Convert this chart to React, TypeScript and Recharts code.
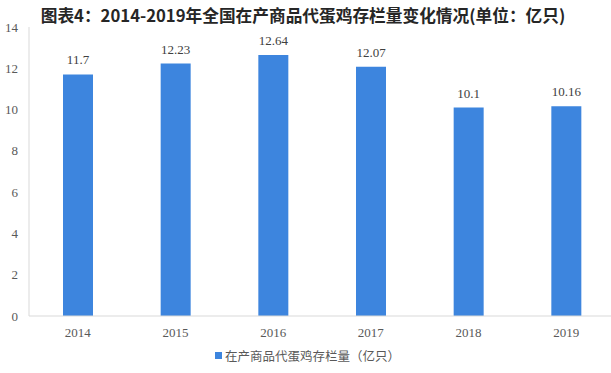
import { BarChart, Bar, XAxis, YAxis, Legend, LabelList } from 'recharts';

const years = ['2014', '2015', '2016', '2017', '2018', '2019'];
const stock = [11.7, 12.23, 12.64, 12.07, 10.1, 10.16];
const yTicks = [0, 2, 4, 6, 8, 10, 12, 14];

const seriesName = '在产商品代蛋鸡存栏量（亿只）';
const barColor = '#3d85de';
const serif = "'Liberation Serif', 'DejaVu Serif', serif";
const cjk = "'Noto Sans CJK SC', sans-serif";

const data = years.map((year, i) => ({ year, value: stock[i] }));

function LegendBox() {
  return (
    <div style={{ display: 'flex', justifyContent: 'center', alignItems: 'center', fontFamily: cjk, fontSize: 12.5, color: '#595959' }}>
      <span style={{ width: 7, height: 7, background: barColor, display: 'inline-block', marginRight: 3 }} />
      {seriesName}
    </div>
  );
}

export default function App() {
  return (
    <div style={{ position: 'absolute', left: 0, top: 0, width: 611, height: 373, overflow: 'hidden', background: '#fff' }}>
      <style>{`.serif-chart svg text, .serif-chart svg tspan { font-family: ${serif} !important; }`}</style>
      <div style={{ position: 'absolute', top: 3, left: 0, width: 606, textAlign: 'center', fontFamily: cjk, fontWeight: 700, fontSize: 16.7, color: '#262626', whiteSpace: 'nowrap' }}>
        图表4：2014-2019年全国在产商品代蛋鸡存栏量变化情况(单位：亿只)
      </div>
      <div className="serif-chart">
        <BarChart width={616} height={373} data={data} margin={{ top: 27, right: 1, left: 0, bottom: 8 }}>
          <XAxis
            dataKey="year"
            axisLine={{ stroke: '#d9d9d9' }}
            tickLine={false}
            tickSize={6}
            tickMargin={6}
            height={30}
            tick={{ fill: '#595959', fontSize: 13, style: { fontFamily: serif } }}
          />
          <YAxis
            domain={[0, 14]}
            ticks={yTicks}
            width={29}
            axisLine={{ stroke: '#d9d9d9' }}
            tickLine={false}
            tickSize={7}
            tickMargin={4}
            tick={{ fill: '#595959', fontSize: 13, style: { fontFamily: serif } }}
          />
          <Legend verticalAlign="bottom" content={() => <LegendBox />} />
          <Bar dataKey="value" name={seriesName} fill={barColor} barSize={30} isAnimationActive={false}>
            <LabelList dataKey="value" position="top" offset={10} fill="#404040" fontSize={13} style={{ fontFamily: serif }} />
          </Bar>
        </BarChart>
      </div>
    </div>
  );
}
